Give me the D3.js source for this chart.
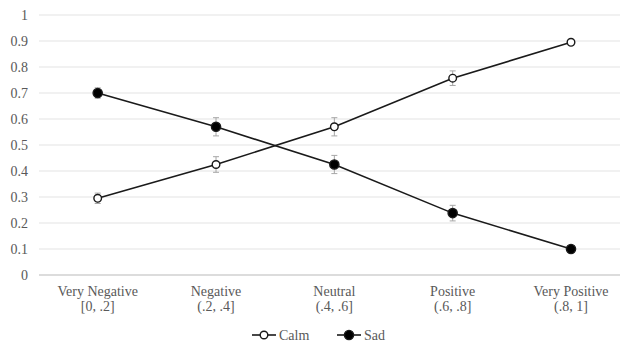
<!DOCTYPE html>
<html>
<head>
<meta charset="utf-8">
<script src="https://cdn.jsdelivr.net/npm/d3@7"></script>
<style>
  html, body { margin: 0; padding: 0; background: #fff; }
  svg { display: block; }
</style>
</head>
<body>
<svg id="chart" width="620" height="343"></svg>
<script>
// Mood bins along the x axis (two-line labels)
const categories = ["Very Negative", "Negative", "Neutral", "Positive", "Very Positive"];
const categoryRanges = ["[0, .2]", "(.2, .4]", "(.4, .6]", "(.6, .8]", "(.8, 1]"];

// Mean proportion per bin and its error
const calmValues = [0.295, 0.425, 0.57, 0.757, 0.895];
const calmErrors = [0.02, 0.03, 0.035, 0.028, 0.01];
const sadValues = [0.70, 0.57, 0.425, 0.238, 0.10];
const sadErrors = [0.02, 0.035, 0.035, 0.03, 0.01];

const yTicks = [0, 0.1, 0.2, 0.3, 0.4, 0.5, 0.6, 0.7, 0.8, 0.9, 1];
const yTickLabels = ["0", "0.1", "0.2", "0.3", "0.4", "0.5", "0.6", "0.7", "0.8", "0.9", "1"];

const series = [
  { name: "Calm", values: calmValues, errors: calmErrors, fill: "#ffffff" },
  { name: "Sad", values: sadValues, errors: sadErrors, fill: "#000000" }
];

const FONT = "Liberation Serif";
const FONT_SIZE = "14px";
const svg = d3.select("#chart");

const x = d3.scalePoint().domain(categories).range([97.7, 571]);
const y = d3.scaleLinear().domain([0, 1]).range([275, 15]);

// Horizontal gridlines
svg.append("g")
  .selectAll("line")
  .data(yTicks)
  .join("line")
  .attr("x1", 39).attr("x2", 620)
  .attr("y1", d => y(d)).attr("y2", d => y(d))
  .attr("stroke", d => d === 0 ? "#d0d0d0" : "#e3e3e3")
  .attr("stroke-width", d => d === 0 ? 1.3 : 1);

// Y axis labels
const yAxis = d3.axisLeft(y)
  .tickValues(yTicks)
  .tickFormat((d, i) => yTickLabels[i])
  .tickSize(0)
  .tickPadding(0);
const yg = svg.append("g").attr("transform", "translate(28,0)").call(yAxis);
yg.select(".domain").remove();
yg.selectAll("text")
  .attr("fill", "#595959")
  .attr("dy", "0.34em")
  .style("font-family", FONT)
  .style("font-size", FONT_SIZE);

// X axis labels (two lines)
const xg = svg.append("g");
categories.forEach((c, i) => {
  const t = xg.append("text")
    .attr("x", x(c))
    .attr("text-anchor", "middle")
    .attr("fill", "#595959")
    .style("font-family", FONT)
    .style("font-size", FONT_SIZE);
  t.append("tspan").attr("x", x(c)).attr("y", 296).text(c);
  t.append("tspan").attr("x", x(c)).attr("y", 311).text(categoryRanges[i]);
});

const line = d3.line()
  .x((d, i) => x(categories[i]))
  .y(d => y(d));

series.forEach(s => {
  const g = svg.append("g");
  // Error bars
  const eb = g.append("g")
    .selectAll("g")
    .data(s.values.map((v, i) => ({ v, e: s.errors[i], c: categories[i] })))
    .join("g")
    .attr("stroke", "#a6a6a6")
    .attr("stroke-width", 1);
  eb.append("line")
    .attr("x1", d => x(d.c)).attr("x2", d => x(d.c))
    .attr("y1", d => y(d.v - d.e)).attr("y2", d => y(d.v + d.e));
  eb.append("line")
    .attr("x1", d => x(d.c) - 3).attr("x2", d => x(d.c) + 3)
    .attr("y1", d => y(d.v - d.e)).attr("y2", d => y(d.v - d.e));
  eb.append("line")
    .attr("x1", d => x(d.c) - 3).attr("x2", d => x(d.c) + 3)
    .attr("y1", d => y(d.v + d.e)).attr("y2", d => y(d.v + d.e));

  // Series line
  g.append("path")
    .datum(s.values)
    .attr("d", line)
    .attr("fill", "none")
    .attr("stroke", "#1a1a1a")
    .attr("stroke-width", 1.6);

  // Markers
  g.append("g")
    .selectAll("circle")
    .data(s.values)
    .join("circle")
    .attr("cx", (d, i) => x(categories[i]))
    .attr("cy", d => y(d))
    .attr("r", s.fill === "#ffffff" ? 3.8 : 4.6)
    .attr("fill", s.fill)
    .attr("stroke", "#1a1a1a")
    .attr("stroke-width", 1.4);
});

// Legend
const legendItems = [
  { name: "Calm", fill: "#ffffff", x0: 252 },
  { name: "Sad", fill: "#000000", x0: 337 }
];
const lg = svg.append("g");
legendItems.forEach(it => {
  lg.append("line")
    .attr("x1", it.x0).attr("x2", it.x0 + 24)
    .attr("y1", 335).attr("y2", 335)
    .attr("stroke", "#1a1a1a").attr("stroke-width", 1.6);
  lg.append("circle")
    .attr("cx", it.x0 + 12).attr("cy", 335)
    .attr("r", it.fill === "#ffffff" ? 3.8 : 4.6)
    .attr("fill", it.fill)
    .attr("stroke", "#1a1a1a").attr("stroke-width", 1.4);
  lg.append("text")
    .attr("x", it.x0 + 27).attr("y", 339.5)
    .attr("fill", "#595959")
    .style("font-family", FONT)
    .style("font-size", FONT_SIZE)
    .text(it.name);
});
</script>
</body>
</html>
